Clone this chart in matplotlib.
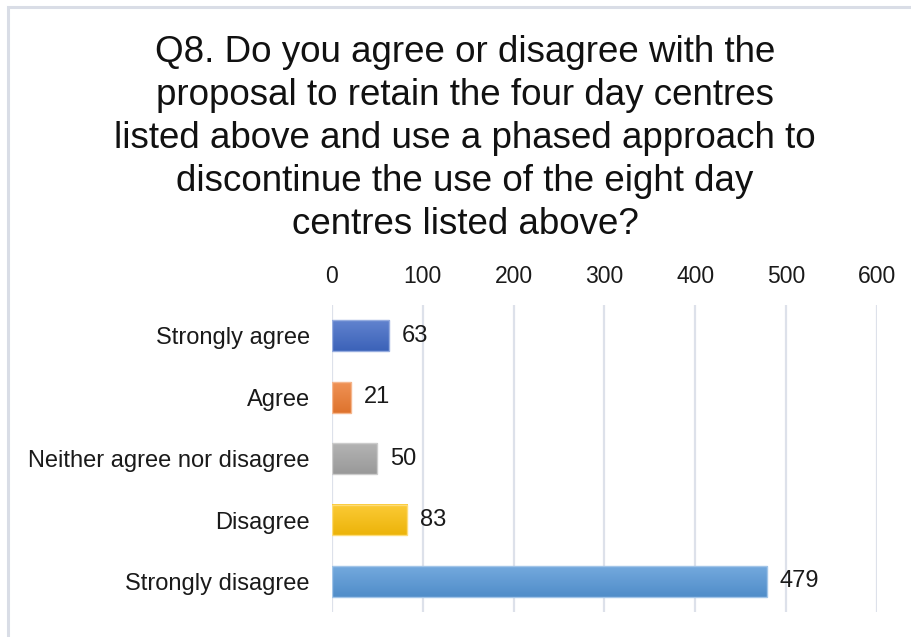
import matplotlib
matplotlib.use("Agg")
import matplotlib.pyplot as plt
import numpy as np
from matplotlib.colors import to_rgb
from matplotlib.patches import Rectangle

categories = ["Strongly agree", "Agree", "Neither agree nor disagree", "Disagree", "Strongly disagree"]
values = [63, 21, 50, 83, 479]
colors = ["#3f68c4", "#ec7a30", "#a3a3a3", "#fbbf0a", "#5596d6"]
xticks = [0, 100, 200, 300, 400, 500, 600]
title = ("Q8. Do you agree or disagree with the\nproposal to retain the four day centres\n"
         "listed above and use a phased approach to\ndiscontinue the use of the eight day\n"
         "centres listed above?")

plt.rcParams['font.family'] = ['Liberation Sans', 'DejaVu Sans']
fig = plt.figure(figsize=(9.12, 6.37), dpi=100)
ax = fig.add_axes([0.364, 0.039, 0.5976, 0.482])

y = np.arange(len(categories))
h = 0.5
bars = ax.barh(y, values, height=h, color=colors, edgecolor="none", zorder=2)

def lighten(c, f):
    r = np.array(to_rgb(c))
    return tuple(r + (1 - r) * f)

def darken(c, f):
    r = np.array(to_rgb(c))
    return tuple(r * (1 - f))

for b, c in zip(bars, colors):
    x0, y0 = b.get_x(), b.get_y()
    w, hh = b.get_width(), b.get_height()
    top = np.array(lighten(c, 0.18))
    bot = np.array(darken(c, 0.06))
    t = np.linspace(0, 1, 64)[:, None, None]
    grad = top * (1 - t) + bot * t
    ax.imshow(grad, extent=(x0, x0 + w, y0 + hh, y0), aspect='auto', zorder=3, interpolation='bilinear')
    b.set_visible(False)
    ax.add_patch(Rectangle((x0, y0), w, hh, fill=False, edgecolor=lighten(c, 0.45), lw=1.0, zorder=4))
    ax.annotate(str(int(w)), (x0 + w, y0 + hh / 2), xytext=(9, 0), textcoords='offset points',
                va='center', ha='left', fontsize=17, color='#1a1a1a')

ax.set_xlim(0, 600)
ax.set_ylim(len(categories) - 0.5, -0.5)
ax.set_xticks(xticks)
ax.xaxis.tick_top()
ax.tick_params(axis='x', length=0, pad=12, labelsize=16.5, labelcolor='#1a1a1a')
ax.tick_params(axis='y', length=0, pad=16, labelsize=17, labelcolor='#1a1a1a')
ax.set_yticks(y)
ax.set_yticklabels(categories)
ax.grid(axis='x', color='#dde1ea', lw=1.6, zorder=0)
for s in ax.spines.values():
    s.set_visible(False)
ax.set_aspect('auto')

fig.text(0.51, 0.945, title, ha='center', va='top', fontsize=26.5, linespacing=1.3, color='#111111')

fig.add_artist(Rectangle((0.009, -0.02), 1.1, 1.009, transform=fig.transFigure, fill=False,
                         edgecolor='#d9dde6', lw=2.2))
fig.savefig("out.png", dpi=100)
